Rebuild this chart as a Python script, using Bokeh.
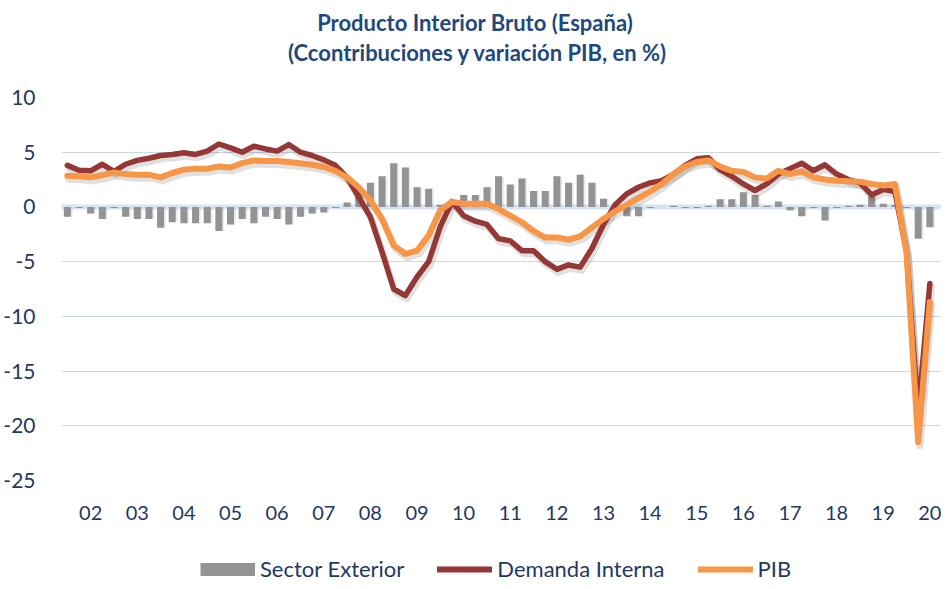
from bokeh.plotting import figure
from bokeh.layouts import column
from bokeh.models import (Range1d, FixedTicker, Span, Legend, LegendItem,
                          ColumnDataSource, Label)
from bokeh.transform import dodge
from bokeh.embed import file_html
from bokeh.resources import INLINE

# Quarterly data 2002T1 .. 2020T3 (year-on-year, %)
YEARS = list(range(2002, 2021))
QUARTERS = [f"{y}T{q}" for y in YEARS for q in (1, 2, 3, 4)][:75]

SECTOR_EXTERIOR = [
    -0.9, -0.1, -0.6, -1.1, -0.1, -0.9, -1.1, -1.1, -1.9, -1.4,
    -1.5, -1.5, -1.5, -2.2, -1.6, -1.1, -1.5, -0.9, -1.1, -1.6,
    -0.9, -0.6, -0.5, -0.1, 0.4, 1.4, 2.2, 2.8, 4.0, 3.6,
    1.8, 1.65, 0.2, 0.1, 1.1, 1.1, 1.8, 2.8, 2.05, 2.6,
    1.45, 1.45, 2.8, 2.2, 2.95, 2.2, 0.75, -0.1, -0.85, -0.85,
    -0.1, 0.0, 0.1, -0.1, -0.1, 0.1, 0.7, 0.7, 1.35, 1.1,
    0.1, 0.5, -0.3, -0.85, -0.1, -1.25, -0.1, 0.1, 0.2, 0.95,
    0.3, 0.2, -0.1, -2.9, -1.85,
]
DEMANDA_INTERNA = [
    3.8, 3.35, 3.3, 3.9, 3.25, 3.9, 4.25, 4.45, 4.7, 4.8,
    4.95, 4.8, 5.1, 5.75, 5.4, 5.0, 5.55, 5.3, 5.1, 5.7,
    5.0, 4.7, 4.3, 3.8, 2.7, 0.9, -0.9, -4.1, -7.5, -8.1,
    -6.4, -5.0, -1.8, 0.5, -0.8, -1.3, -1.6, -2.9, -3.1, -4.0,
    -4.0, -5.0, -5.7, -5.3, -5.5, -3.8, -1.6, 0.2, 1.2, 1.8,
    2.2, 2.4, 3.0, 3.8, 4.4, 4.5, 3.4, 2.8, 2.1, 1.5,
    2.1, 3.0, 3.5, 4.0, 3.3, 3.85, 3.0, 2.5, 2.2, 1.1,
    1.6, 1.4, -4.1, -18.8, -7.0,
]
PIB = [
    2.85, 2.8, 2.7, 2.9, 3.15, 3.0, 2.95, 2.95, 2.7, 3.1,
    3.4, 3.5, 3.5, 3.7, 3.6, 4.0, 4.25, 4.2, 4.2, 4.1,
    4.0, 3.85, 3.65, 3.3, 2.7, 1.8, 0.6, -1.1, -3.5, -4.3,
    -4.0, -2.6, -0.3, 0.45, 0.3, 0.3, 0.3, -0.2, -0.8, -1.4,
    -2.2, -2.8, -2.8, -3.0, -2.7, -1.9, -1.1, -0.4, 0.2, 0.8,
    1.4, 2.1, 3.0, 3.7, 4.1, 4.25, 3.7, 3.3, 3.2, 2.7,
    2.6, 3.3, 3.0, 3.25, 2.7, 2.5, 2.4, 2.35, 2.3, 2.1,
    1.95, 2.1, -4.2, -21.5, -8.7,
]
YEAR_LABELS = ["02", "03", "04", "05", "06", "07", "08", "09", "10", "11",
               "12", "13", "14", "15", "16", "17", "18", "19", "20"]
Y_TICKS = [10, 5, 0, -5, -10, -15, -20, -25]

TITLE_1 = "Producto  Interior  Bruto (España)"
TITLE_2 = "(Ccontribuciones  y variación PIB, en %)"
LEGEND_LABELS = ["Sector Exterior", "Demanda Interna", "PIB"]

FONT = "Lato"
NAVY = "#1f3864"
TITLE_BLUE = "#1f497d"
C_EXT = "#939393"
C_DEM = "#953735"
C_PIB = "#f79646"
W = 941

idx = list(range(len(QUARTERS)))
src = ColumnDataSource(dict(x=idx, q=QUARTERS, ext=SECTOR_EXTERIOR,
                            dem=DEMANDA_INTERNA, pib=PIB))

# ---------------- title strip ----------------
tf = figure(width=W, height=75, output_backend="svg", toolbar_location=None,
            x_axis_type=None, y_axis_type=None, min_border=0, frame_align=False)
tf.outline_line_color = None
tf.grid.visible = False
for txt, ys in ((TITLE_1, 53), (TITLE_2, 23)):
    tf.add_layout(Label(x=480, y=ys, x_units="screen", y_units="screen", text=txt,
                        text_align="center", text_baseline="middle",
                        text_font=FONT, text_font_size="22px",
                        text_font_style="bold", text_color=TITLE_BLUE))

# ---------------- main chart ----------------
p = figure(width=W, height=478, output_backend="svg", toolbar_location=None,
           x_range=Range1d(-0.5, 75.0), y_range=Range1d(-25, 10),
           min_border_left=61, min_border_right=0, min_border_top=22,
           min_border_bottom=73, frame_align=False)
p.outline_line_color = None

p.xgrid.grid_line_color = None
p.ygrid.grid_line_color = "#c9d9ec"
p.ygrid.grid_line_width = 1.2
p.ygrid.ticker = FixedTicker(ticks=Y_TICKS)

p.add_layout(Span(location=0, dimension="width", line_color="#d7e4f3",
                  line_width=5, level="underlay"))

p.yaxis.ticker = FixedTicker(ticks=Y_TICKS)
p.yaxis.major_label_overrides = {t: str(t) for t in Y_TICKS}
p.yaxis.axis_line_color = None
p.yaxis.major_tick_line_color = None
p.yaxis.minor_tick_line_color = None
p.yaxis.major_label_standoff = 20
p.yaxis.major_label_text_font = FONT
p.yaxis.major_label_text_font_size = "21px"
p.yaxis.major_label_text_color = NAVY

tick_pos = [2 + 4 * i for i in range(len(YEAR_LABELS))]
p.xaxis.ticker = FixedTicker(ticks=tick_pos)
p.xaxis.major_label_overrides = {t: lab for t, lab in zip(tick_pos, YEAR_LABELS)}
p.xaxis.axis_line_color = None
p.xaxis.major_tick_line_color = None
p.xaxis.minor_tick_line_color = None
p.xaxis.major_label_standoff = 19
p.xaxis.major_label_text_font = FONT
p.xaxis.major_label_text_font_size = "20px"
p.xaxis.major_label_text_color = NAVY

# soft drop shadows (same series, nudged a little right/down)
p.vbar(x=dodge("x", 0.15, range=p.x_range), top="ext", bottom=0, width=0.6,
       source=src, fill_color="black", fill_alpha=0.08, line_color=None)
p.vbar(x="x", top="ext", bottom=0, width=0.6, source=src,
       fill_color=C_EXT, line_color=None)
for col, wdt in (("dem", 7), ("pib", 7.5)):
    p.line(x=dodge("x", 0.15, range=p.x_range), y=dodge(col, -0.3, range=p.y_range),
           source=src, line_color="black", line_alpha=0.12, line_width=wdt,
           line_join="round", line_cap="round")
p.line(x="x", y="dem", source=src, line_color=C_DEM, line_width=5.5,
       line_join="round", line_cap="round")
p.line(x="x", y="pib", source=src, line_color=C_PIB, line_width=6,
       line_join="round", line_cap="round")

# ---------------- legend strip ----------------
# same series, drawn through a y range that keeps them out of view;
# only their legend swatches are visible
lf = figure(width=W, height=28, output_backend="svg", toolbar_location=None,
            x_axis_type=None, y_axis_type=None, min_border=0, frame_align=False,
            x_range=Range1d(-0.5, 75.0), y_range=Range1d(100, 200))
lf.outline_line_color = None
lf.grid.visible = False
r_ext = lf.line(x="x", y="ext", source=src, line_color=C_EXT, line_width=13,
                line_cap="butt")
r_dem = lf.line(x="x", y="dem", source=src, line_color=C_DEM, line_width=6,
                line_cap="round")
r_pib = lf.line(x="x", y="pib", source=src, line_color=C_PIB, line_width=6,
                line_cap="round")
legend = Legend(items=[LegendItem(label=LEGEND_LABELS[0], renderers=[r_ext]),
                       LegendItem(label=LEGEND_LABELS[1], renderers=[r_dem]),
                       LegendItem(label=LEGEND_LABELS[2], renderers=[r_pib])],
                orientation="horizontal", location=(200, -1),
                glyph_width=55, glyph_height=16, label_standoff=5, spacing=33,
                padding=0, margin=0, border_line_color=None,
                background_fill_alpha=0,
                label_text_font=FONT, label_text_font_size="22px",
                label_text_color=NAVY, label_height=20)
lf.add_layout(legend)

layout = column(tf, p, lf, spacing=0)
open("out.html", "w").write(file_html(layout, INLINE))
